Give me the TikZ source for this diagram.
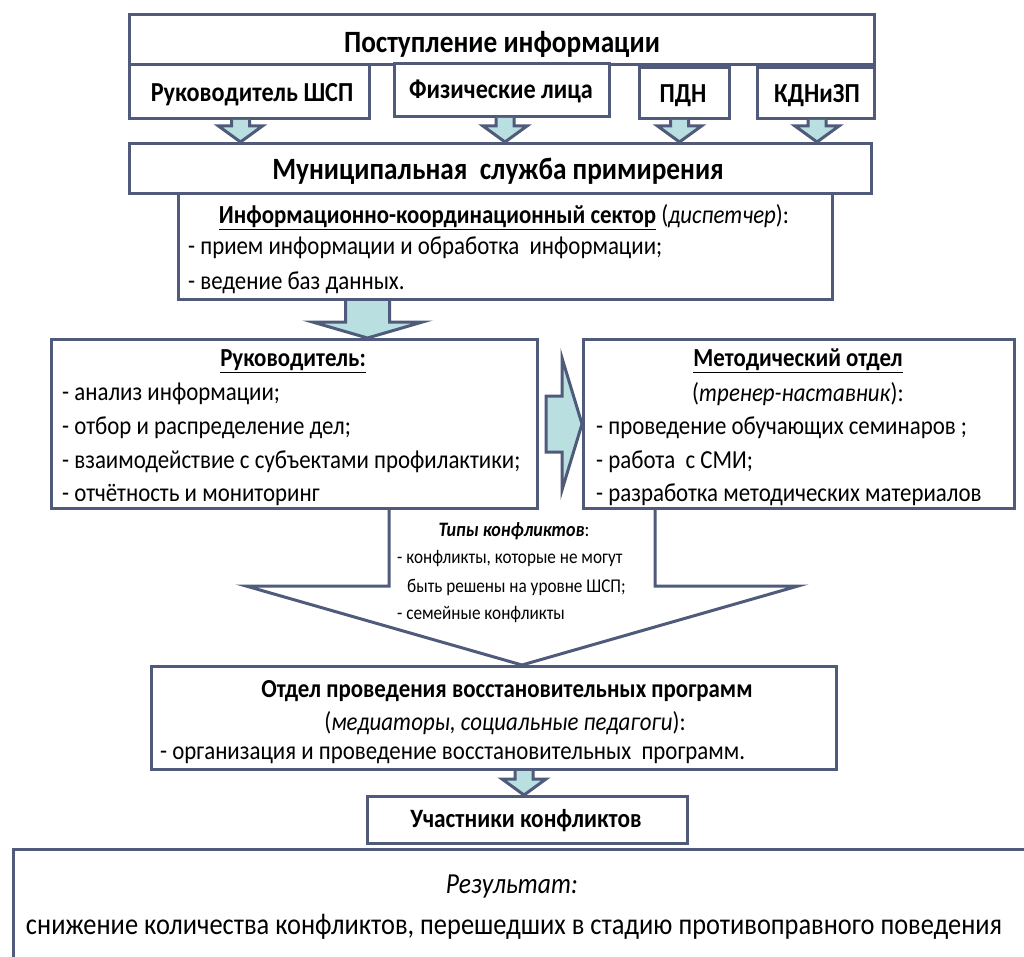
\documentclass[tikz,border=0pt]{standalone}
\usepackage{fontspec}
\setmainfont{Carlito}[FakeStretch=0.88]
\usetikzlibrary{calc,positioning}

\definecolor{frame}{HTML}{505B7C}
\definecolor{arrowfill}{HTML}{B9DFE1}

% box at top left corner, width, height
\newcommand\boxat[5]{\node[box,minimum width=#4pt,minimum height=#5pt] (#1) at (#2,#3) {};}
% block arrow down: top point, node it points to, shaft half, head half, head length
\newcommand\blockdown[5]{%
  \draw[blockarrow] let \p1=(#1), \p2=(#2.north) in
    (\x1-#3pt,\y1) -- (\x1-#3pt,\y2+#5pt) -- (\x1-#4pt,\y2+#5pt) -- (\x1,\y2)
    -- (\x1+#4pt,\y2+#5pt) -- (\x1+#3pt,\y2+#5pt) -- (\x1+#3pt,\y1);}

\begin{document}
\begin{tikzpicture}[x=1pt,y=-1pt,
    box/.style={draw=frame,line width=3pt,fill=white,inner sep=0pt,anchor=north west},
    blockarrow/.style={draw=frame,line width=3pt,fill=arrowfill,line join=miter},
    head/.style={inner sep=0pt,font=\fontsize{31}{36}\selectfont\bfseries},
    sub/.style={inner sep=0pt,font=\fontsize{27.5}{32}\selectfont\bfseries},
    body/.style={inner sep=0pt,anchor=west,font=\fontsize{26}{30}\selectfont},
    small/.style={inner sep=0pt,anchor=west,font=\fontsize{19.5}{23}\selectfont}]
  \useasboundingbox (0,0) rectangle (1024,957);

  % sources of information
  \boxat{post}{128}{13}{745}{50}
  \boxat{shsp}{128}{63}{240}{54}
  \boxat{phys}{393}{62}{215}{53}
  \boxat{pdn}{638}{66}{90}{51}
  \boxat{kdn}{756}{66}{117}{51}
  \boxat{muni}{128}{142}{742}{50}
  \boxat{info}{177}{192}{654}{106}

  \blockdown{$(shsp.south)+(-9,0)$}{muni}{9}{22}{16}
  \blockdown{$(phys.south)+(3,0)$}{muni}{9}{22}{16}
  \blockdown{$(pdn.south)+(-5,0)$}{muni}{9}{22}{16}
  \blockdown{$(kdn.south)+(1,0)$}{muni}{9}{22}{16}

  % conflict types arrow
  \coordinate (typtop) at (522,507);
  \draw[draw=frame,line width=3pt,fill=white,line join=miter]
    let \p1=(typtop), \p2=(665,665) in
    (\x1-133pt,\y1) -- (\x1-133pt,\y2+79pt) -- (\x1-276pt,\y2+79pt) -- (\x1,\y2)
    -- (\x1+276pt,\y2+79pt) -- (\x1+133pt,\y2+79pt) -- (\x1+133pt,\y1);

  \boxat{ruk}{50}{338}{486}{169}
  \boxat{met}{582}{338}{431}{169}
  \blockdown{$(info.south)+(-138,0)$}{ruk}{22}{55}{16}

  % arrow to the methodical department
  \draw[blockarrow] let \p1=(ruk.east), \p2=(met.west) in
    (\x1+7pt,\y1+28pt) -- (\x2-20pt,\y1+28pt) -- (\x2-20pt,\y1+66pt) -- (\x2,\y1)
    -- (\x2-20pt,\y1-66pt) -- (\x2-20pt,\y1-28pt) -- (\x1+7pt,\y1-28pt) -- cycle;

  \boxat{prog}{150}{665}{685}{103}
  \boxat{uch}{366}{795}{320}{47}
  \blockdown{$(prog.south)+(30,0)$}{uch}{9}{22}{16}
  \boxat{res}{12}{848}{1030}{130}

  % texts
  \node[head] (tpost) at (502,44) {Поступление информации};
  \node[sub] (tshsp) at (252,95) {Руководитель ШСП};
  \node[sub] (tphys) at (501,91) {Физические лица};
  \node[sub] (tpdn) at (683,96) {ПДН};
  \node[sub] (tkdn) at (817,96) {КДНиЗП};
  \node[head] (tmuni) at (498,171) {Муниципальная\ \ служба примирения};

  \node[body,anchor=center] (tinfo) at (504,217)
    {\textbf{\underline{Информационно-координационный сектор}} (\textit{диспетчер}):};
  \node[body] (tinfo1) at (188,248) {- прием информации и обработка\ \ информации;};
  \node[body] (tinfo2) at (188,283) {- ведение баз данных.};

  \node[body,anchor=center] (truk) at (293,361) {\textbf{\underline{Руководитель:}}};
  \node[body] (truk1) at (62,394) {- анализ информации;};
  \node[body] (truk2) at (62,428) {- отбор и распределение дел;};
  \node[body] (truk3) at (62,462) {- взаимодействие с субъектами профилактики;};
  \node[body] (truk4) at (62,495) {- отчётность и мониторинг};

  \node[body,anchor=center] (tmet) at (798,361) {\textbf{\underline{Методический отдел}}};
  \node[body,anchor=center] (tmet0) at (798,394) {(\textit{тренер-наставник}):};
  \node[body] (tmet1) at (596,428) {- проведение обучающих семинаров ;};
  \node[body] (tmet2) at (596,462) {- работа\ \ с СМИ;};
  \node[body] (tmet3) at (596,495) {- разработка методических материалов};

  \node[small,anchor=center,font=\fontsize{20.5}{24}\selectfont] (ttyp) at (514,531)
    {\textbf{\textit{Типы конфликтов}}:};
  \node[small] (ttyp1) at (397,559) {- конфликты, которые не могут};
  \node[small] (ttyp2) at (407,587) {быть решены на уровне ШСП;};
  \node[small] (ttyp3) at (397,615) {- семейные конфликты};

  \node[body,anchor=center,font=\fontsize{26}{30}\selectfont\bfseries] (tprog) at (507,691)
    {Отдел проведения восстановительных программ};
  \node[body,anchor=center] (tprog0) at (505,723) {(\textit{медиаторы, социальные педагоги}):};
  \node[body] (tprog1) at (160,755) {- организация и проведение восстановительных\ \ программ.};

  \node[sub,font=\fontsize{26.5}{30}\selectfont\bfseries] (tuch) at (526,821) {Участники конфликтов};
  \node[inner sep=0pt,font=\fontsize{29}{33}\selectfont\itshape] (tres) at (512,887) {Результат:};
  \node[inner sep=0pt,font=\fontsize{30}{34}\selectfont] (tres1) at (514,927)
    {снижение количества конфликтов, перешедших в стадию противоправного поведения};
\end{tikzpicture}
\end{document}
